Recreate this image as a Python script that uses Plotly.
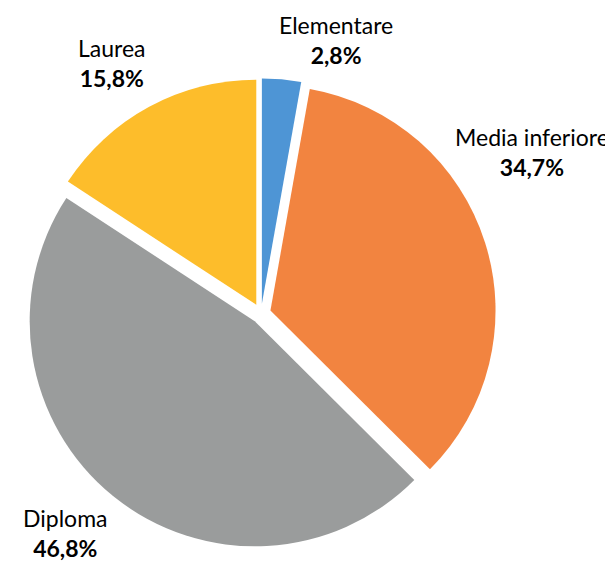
import plotly.graph_objects as go

labels = ["Elementare", "Media inferiore", "Diploma", "Laurea"]
values = [2.8, 34.7, 46.8, 15.8]
colors = ["#4E95D5", "#F28440", "#9A9C9C", "#FDBD2B"]

W, H = 613, 564
# label block centers (pixels)
label_pos = [(328, 32), (524, 144), (57, 525), (104, 55)]

fig = go.Figure(go.Pie(
    labels=labels,
    values=values,
    sort=False,
    direction="clockwise",
    rotation=0,
    pull=[0.044] * 4,
    marker=dict(colors=colors, line=dict(width=0)),
    textinfo="none",
    hoverinfo="label+percent",
    domain=dict(x=[18 / W, 488 / W], y=[1 - 541 / H, 1 - 70 / H]),
    showlegend=False,
))

annotations = []
for lab, val, (px, py) in zip(labels, values, label_pos):
    txt = f"{lab}<br><b>{val:.1f}%</b>".replace(".", ",")
    annotations.append(dict(
        text=txt, x=px / W, y=1 - py / H, xref="paper", yref="paper",
        xanchor="center", yanchor="middle", showarrow=False, align="center",
        font=dict(family="Lato, Open Sans, sans-serif", size=23, color="#000000"),
    ))

fig.update_layout(
    width=W, height=H,
    margin=dict(l=0, r=0, t=0, b=0),
    paper_bgcolor="white", plot_bgcolor="white",
    annotations=annotations,
)

fig.write_html("out.html")
